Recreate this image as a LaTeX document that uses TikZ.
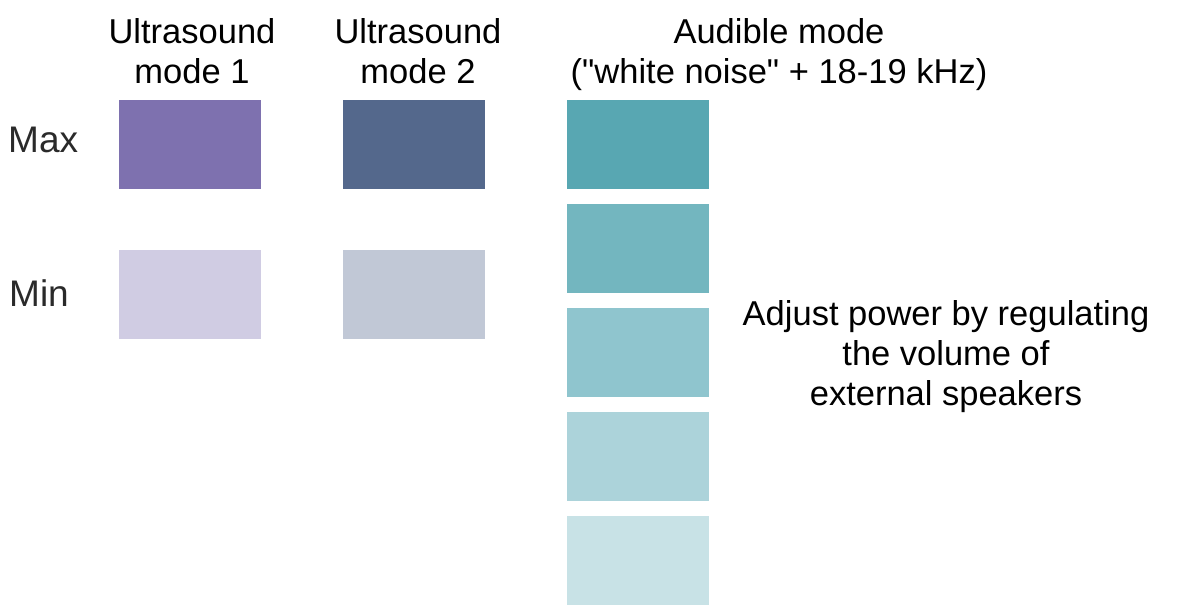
\documentclass[tikz,border=0pt]{standalone}
\usepackage{fontspec}
\setmainfont{Liberation Sans}[Ligatures=TeXOff]
\definecolor{uoneMax}{HTML}{7E71AF}
\definecolor{uoneMin}{HTML}{D0CCE3}
\definecolor{utwoMax}{HTML}{54688C}
\definecolor{utwoMin}{HTML}{C1C8D6}
\definecolor{audA}{HTML}{58A7B2}
\definecolor{audB}{HTML}{73B6BF}
\definecolor{audC}{HTML}{8FC5CE}
\definecolor{audD}{HTML}{ACD3DA}
\definecolor{audE}{HTML}{C8E2E6}
\definecolor{lblgray}{HTML}{2A2A2A}
\begin{document}
\begin{tikzpicture}[x=1pt,y=-1pt,
  swatch/.style={draw=none,inner sep=0pt,minimum width=142pt,minimum height=89pt,anchor=north west},
  title/.style={font=\fontsize{34.5}{40}\selectfont,align=center,inner sep=0pt,anchor=north,text=black},
  rowlbl/.style={font=\fontsize{37}{40}\selectfont,inner sep=0pt,anchor=base west,text=lblgray}]
\useasboundingbox[fill=white] (0,0) rectangle (1182,615);
% titles
\node[title] (t1) at (192,18) {Ultrasound\\mode 1};
\node[title] (t2) at (418,18) {Ultrasound\\mode 2};
\node[title] (t3) at (779,18) {Audible mode\\("white noise" + 18-19 kHz)};
% row labels
\node[rowlbl] (max) at (8,152) {Max};
\node[rowlbl] (min) at (9,306) {Min};
% ultrasound swatches
\node[swatch,fill=uoneMax] (u1max) at (119,100) {};
\node[swatch,fill=uoneMin] (u1min) at (119,250) {};
\node[swatch,fill=utwoMax] (u2max) at (343,100) {};
\node[swatch,fill=utwoMin] (u2min) at (343,250) {};
% audible swatches
\node[swatch,fill=audA] (a1) at (567,100) {};
\node[swatch,fill=audB] (a2) at (567,204) {};
\node[swatch,fill=audC] (a3) at (567,308) {};
\node[swatch,fill=audD] (a4) at (567,412) {};
\node[swatch,fill=audE] (a5) at (567,516) {};
% note
\node[title] (note) at (946,300) {Adjust power by regulating\\the volume of\\external speakers};
\end{tikzpicture}
\end{document}
